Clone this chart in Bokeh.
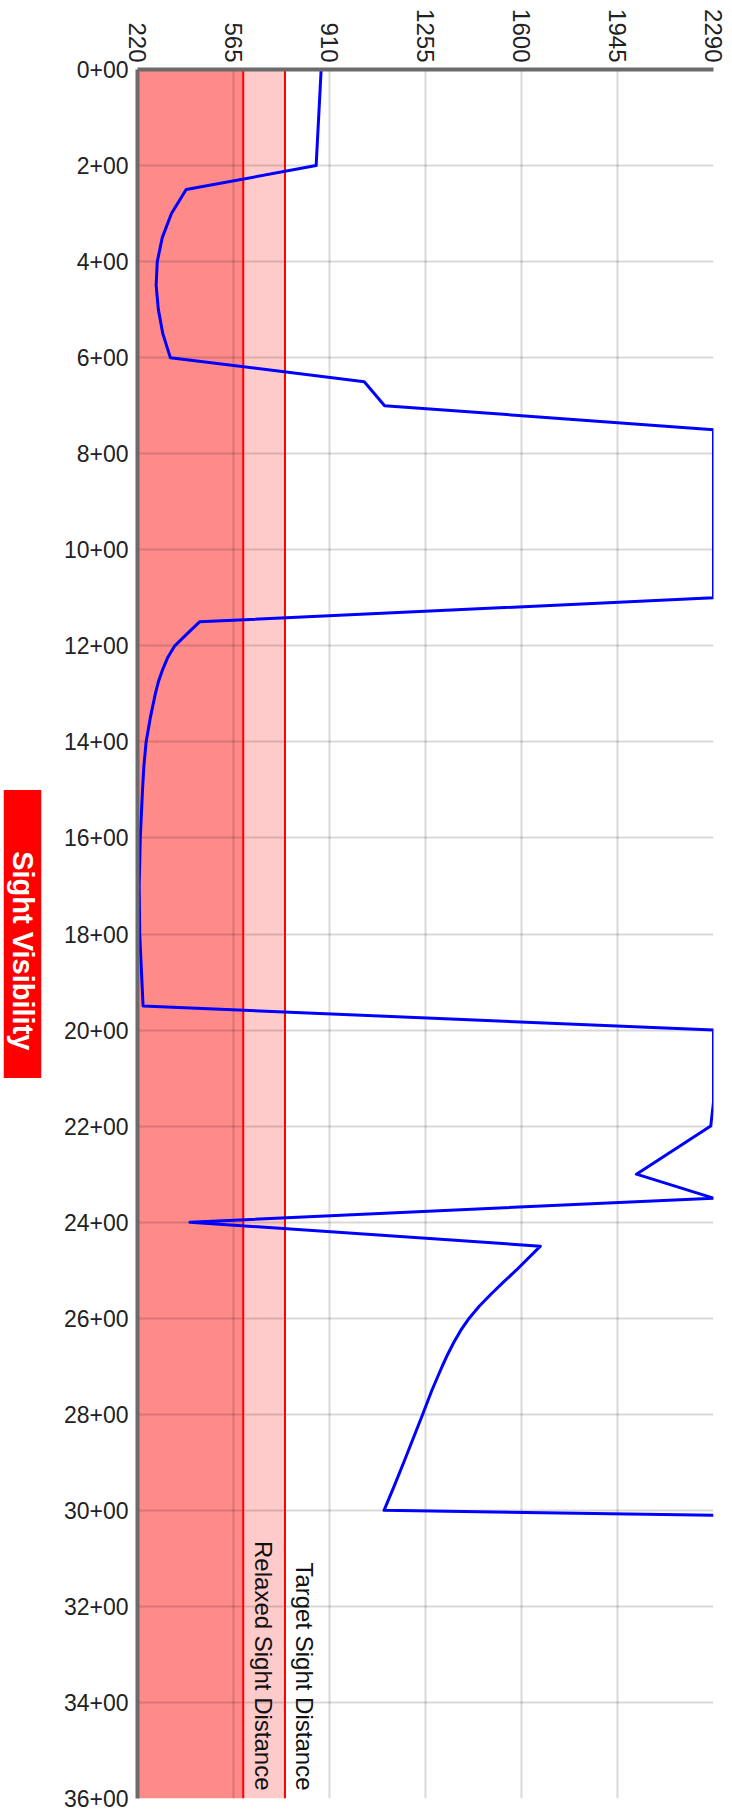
import math
from bokeh.plotting import figure
from bokeh.layouts import row
from bokeh.models import Range1d, FixedTicker, ColumnDataSource, LabelSet
from bokeh.core.properties import value
from bokeh.embed import file_html
from bokeh.resources import INLINE

# ---------------- data ----------------
stations = [0, 2, 2.5, 3, 3.5, 4, 4.5, 5, 5.5, 6, 6.5, 7, 7.5, 11,
            11.5, 11.75, 12, 12.25, 12.5, 12.75, 13, 13.5, 14, 14.5, 15, 16, 17, 18, 19, 19.5,
            20, 21.5, 22, 23, 23.5, 24, 24.5,
            25, 25.25, 25.5, 25.75, 26, 26.25, 26.5, 26.75, 27, 27.5, 28, 28.5, 29, 29.5, 30,
            30.1]
sight = [880, 862, 395, 342, 309, 291, 287, 295, 311, 338, 1035, 1108, 2290, 2290,
         443, 398, 354, 328, 310, 295, 284, 266, 251, 243, 238, 230, 226, 228, 236, 240,
         2290, 2290, 2280, 2013, 2290, 408, 1668,
         1581, 1535, 1490, 1448, 1412, 1382, 1357, 1335, 1315, 1278, 1245, 1211, 1177, 1142, 1106,
         2290]

station_ticks = [0, 2, 4, 6, 8, 10, 12, 14, 16, 18, 20, 22, 24, 26, 28, 30, 32, 34, 36]
station_labels = ["0+00", "2+00", "4+00", "6+00", "8+00", "10+00", "12+00", "14+00", "16+00",
                  "18+00", "20+00", "22+00", "24+00", "26+00", "28+00", "30+00", "32+00",
                  "34+00", "36+00"]
value_ticks = [220, 565, 910, 1255, 1600, 1945, 2290]
value_labels = ["220", "565", "910", "1255", "1600", "1945", "2290"]

threshold_values = [600, 750]
threshold_names = ["Relaxed Sight Distance", "Target Sight Distance"]
band_starts = [220, 600]
band_ends = [600, 750]

title_text = "Sight Visibility"

# ---------------- ranges ----------------
x0, x1 = value_ticks[0], value_ticks[-1]
y0, y1 = station_ticks[0], station_ticks[-1]
y_range = Range1d(y1, y0)

TOP, BOTTOM = 69, 15
SIDE_W = 44

# ---------------- main figure ----------------
p = figure(width=732 - SIDE_W, height=1813,
           x_range=Range1d(x0, x1), y_range=y_range,
           x_axis_location="above",
           output_backend="svg", toolbar_location=None,
           min_border_left=137 - SIDE_W, min_border_right=19,
           min_border_top=TOP, min_border_bottom=BOTTOM)
p.outline_line_color = None
p.background_fill_color = "white"
p.border_fill_color = "white"

band_src = ColumnDataSource(dict(left=band_starts, right=band_ends,
                                 color=["#ff8a8a", "#ffcaca"]))
p.quad(left="left", right="right", bottom=y0, top=y1, fill_color="color",
       line_color=None, source=band_src, level="image")

p.segment(x0=threshold_values, y0=y0, x1=threshold_values, y1=y1,
          line_color="#ff0000", line_width=2)

p.line(sight, stations, line_color="#0000ff", line_width=3, line_join="round")

# top axis (values)
xa = p.xaxis[0]
xa.ticker = FixedTicker(ticks=value_ticks)
xa.major_label_overrides = dict(zip(value_ticks, value_labels))
xa.major_label_orientation = -math.pi / 2
xa.major_label_text_font = "Liberation Sans"
xa.major_label_text_font_size = "24px"
xa.major_label_text_color = "#222222"
xa.major_label_standoff = 7
xa.axis_line_width = 4
xa.axis_line_color = "#6b6b6b"
xa.major_tick_line_color = None
xa.minor_tick_line_color = None
xa.major_tick_out = 0
xa.major_tick_in = 0

# left axis (stations)
ya = p.yaxis[0]
ya.ticker = FixedTicker(ticks=station_ticks)
ya.major_label_overrides = dict(zip(station_ticks, station_labels))
ya.axis_line_width = 4
ya.axis_line_color = "#6b6b6b"
ya.major_tick_line_color = None
ya.minor_tick_line_color = None
ya.major_tick_out = 0
ya.major_tick_in = 0
ya.major_label_standoff = 9
ya.major_label_text_font = "Liberation Sans"
ya.major_label_text_font_size = "23px"
ya.major_label_text_color = "#222222"

for g in (p.xgrid[0], p.ygrid[0]):
    g.grid_line_color = "black"
    g.grid_line_alpha = 0.15
    g.grid_line_width = 2

# threshold labels
thr_src = ColumnDataSource(dict(x=threshold_values, y=[y1] * len(threshold_values),
                                text=threshold_names))
p.add_layout(LabelSet(x="x", y="y", text="text", source=thr_src,
                      angle=-math.pi / 2, x_offset=20, y_offset=8,
                      text_align="right", text_baseline="middle",
                      text_font=value("Liberation Sans"), text_font_size=value("24px"),
                      text_color="#111111"))

# ---------------- side title strip ----------------
side = figure(width=SIDE_W, height=1813, x_range=Range1d(0, 1), y_range=y_range,
              output_backend="svg", toolbar_location=None,
              min_border_left=3, min_border_right=3,
              min_border_top=TOP, min_border_bottom=BOTTOM)
side.axis.visible = False
side.grid.visible = False
side.outline_line_color = None
side.background_fill_color = "white"
side.border_fill_color = "white"

mid = (y0 + y1) / 2
side.quad(left=0, right=1, top=mid - 3, bottom=mid + 3,
          fill_color="#ff0000", line_color=None)
side.text(x=[0.5], y=[mid + 0.35], text=[title_text], angle=-math.pi / 2,
          text_align="center", text_baseline="middle",
          text_font=value("Liberation Sans"), text_font_style="bold",
          text_font_size=value("29px"), text_color="white")

layout = row(side, p)
open("out.html", "w").write(file_html(layout, INLINE))
